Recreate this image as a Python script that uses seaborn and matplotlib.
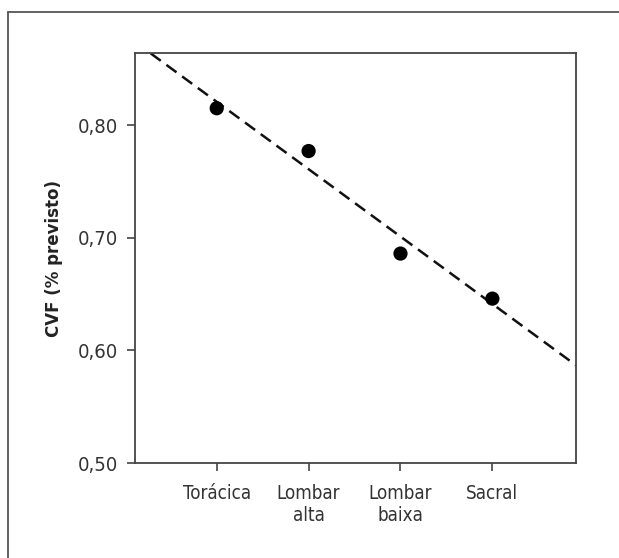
import numpy as np
import pandas as pd
import seaborn as sns
import matplotlib.pyplot as plt
from matplotlib.lines import Line2D

# data
regions = ["Torácica", "Lombar\nalta", "Lombar\nbaixa", "Sacral"]
cvf_values = [0.815, 0.777, 0.686, 0.646]
y_ticks = [0.50, 0.60, 0.70, 0.80]
y_tick_labels = ["0,50", "0,60", "0,70", "0,80"]

df = pd.DataFrame({"pos": np.arange(len(regions)), "cvf": cvf_values})

sns.set_style("ticks")
plt.rcParams["font.family"] = ["DejaVu Sans"]
plt.rcParams["font.stretch"] = "condensed"

fig = plt.figure(figsize=(6.19, 5.58), dpi=100)
ax = fig.add_axes([0.218, 0.170, 0.7125, 0.735])
ax.set_xlim(-0.89, 3.91)
ax.set_ylim(0.50, 0.864)

sns.regplot(x="pos", y="cvf", data=df, ax=ax, ci=None, truncate=False,
            color="black",
            scatter_kws={"s": 105, "color": "black", "alpha": 1,
                         "edgecolor": "none", "zorder": 3},
            line_kws={"color": "#111111", "lw": 1.8, "ls": (0, (5, 2.8)), "zorder": 2})

ax.set_xlim(-0.89, 3.91)
ax.set_ylim(0.50, 0.864)
ax.set_xticks(df["pos"])
ax.set_xticklabels(regions, fontsize=13.5, color="#333333", stretch="condensed")
ax.set_yticks(y_ticks)
ax.set_yticklabels(y_tick_labels, fontsize=14.5, color="#333333", stretch="condensed")
ax.tick_params(axis="both", length=6, width=1.2, color="#444444")
ax.tick_params(axis="y", pad=6)
ax.tick_params(axis="x", pad=9)
for side in ["left", "right", "top", "bottom"]:
    ax.spines[side].set_visible(True)
    ax.spines[side].set_color("#444444")
    ax.spines[side].set_linewidth(1.3)

ax.set_xlabel("")
ax.set_ylabel("CVF (% previsto)", fontsize=12, fontweight="bold",
              family="DejaVu Sans", stretch="normal",
              color="#222222", labelpad=11)

# outer frame (only top and left edges visible in the reference)
fig.add_artist(Line2D([8 / 619, 1.0], [1 - 12 / 558, 1 - 12 / 558],
                      transform=fig.transFigure, color="#555555", lw=1.3))
fig.add_artist(Line2D([8 / 619, 8 / 619], [0.0, 1 - 12 / 558],
                      transform=fig.transFigure, color="#555555", lw=1.3))

fig.savefig("out.png", dpi=100)
